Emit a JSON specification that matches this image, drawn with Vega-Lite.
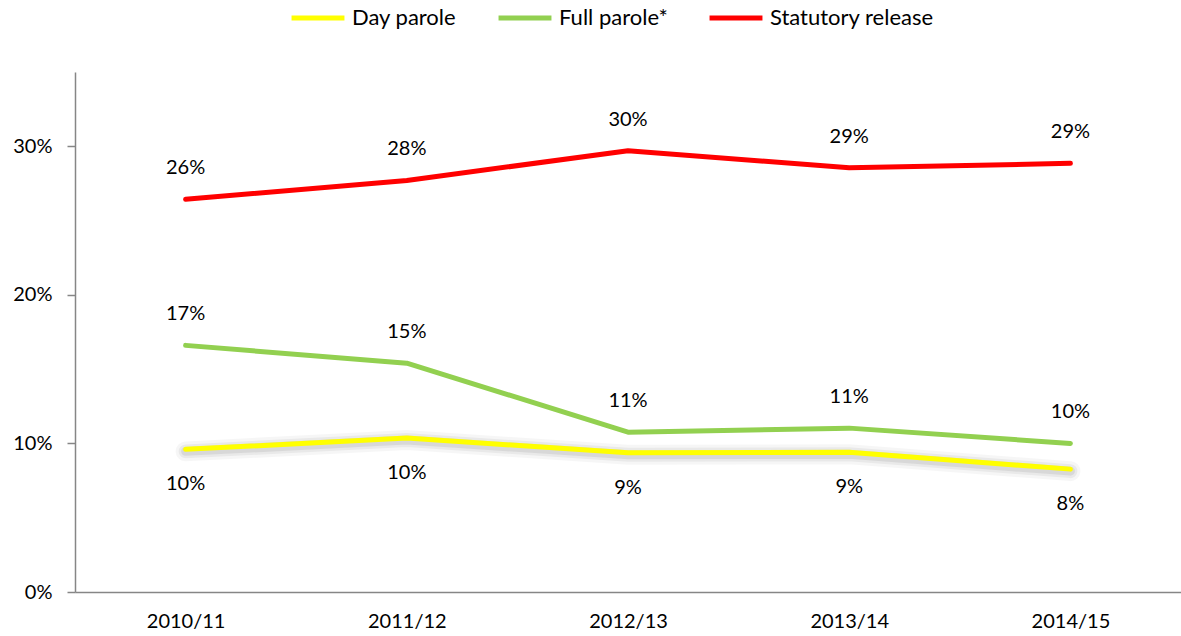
{
  "$schema": "https://vega.github.io/schema/vega-lite/v6.json",
  "autosize": {"type": "none"},
  "padding": {"left": 75, "top": 72, "right": 0, "bottom": 44},
  "width": 1106,
  "height": 520,
  "background": "white",
  "config": {
    "view": {"stroke": null},
    "font": "Lato",
    "axis": {"labelFont": "Lato", "labelColor": "#000000", "labelFontSize": 20, "domainColor": "#868686", "domainWidth": 1.5, "tickColor": "#868686", "tickWidth": 1.5, "grid": false, "title": null}
  },
  "data": {
    "values": [
      {"year": "2010/11", "series": "Day parole", "value": 0.096},
      {"year": "2011/12", "series": "Day parole", "value": 0.1036},
      {"year": "2012/13", "series": "Day parole", "value": 0.0937},
      {"year": "2013/14", "series": "Day parole", "value": 0.094},
      {"year": "2014/15", "series": "Day parole", "value": 0.0827},
      {"year": "2010/11", "series": "Full parole*", "value": 0.166},
      {"year": "2011/12", "series": "Full parole*", "value": 0.154},
      {"year": "2012/13", "series": "Full parole*", "value": 0.1076},
      {"year": "2013/14", "series": "Full parole*", "value": 0.1103},
      {"year": "2014/15", "series": "Full parole*", "value": 0.1},
      {"year": "2010/11", "series": "Statutory release", "value": 0.2643},
      {"year": "2011/12", "series": "Statutory release", "value": 0.277},
      {"year": "2012/13", "series": "Statutory release", "value": 0.297},
      {"year": "2013/14", "series": "Statutory release", "value": 0.2855},
      {"year": "2014/15", "series": "Statutory release", "value": 0.2885}
    ]
  },
  "encoding": {
    "x": {"field": "year", "type": "ordinal", "scale": {"type": "point", "padding": 0.5},
      "axis": {"labelAngle": 0, "ticks": false, "labelPadding": 19}},
    "y": {"field": "value", "type": "quantitative", "scale": {"domain": [0, 0.35], "nice": false, "zero": true},
      "axis": {"values": [0, 0.1, 0.2, 0.3], "format": ".0%", "tickSize": 8, "labelPadding": 15}}
  },
  "layer": [
    {
      "transform": [{"filter": "datum.series === 'Day parole'"}],
      "mark": {"type": "line", "color": "#000000", "opacity": 0.035, "strokeWidth": 20, "strokeCap": "round", "yOffset": 2}
    },
    {
      "transform": [{"filter": "datum.series === 'Day parole'"}],
      "mark": {"type": "line", "color": "#000000", "opacity": 0.05, "strokeWidth": 14, "strokeCap": "round", "yOffset": 2}
    },
    {
      "transform": [{"filter": "datum.series === 'Day parole'"}],
      "mark": {"type": "line", "color": "#000000", "opacity": 0.07, "strokeWidth": 9, "strokeCap": "round", "yOffset": 2}
    },
    {
      "mark": {"type": "line", "strokeWidth": 5, "strokeCap": "round", "strokeJoin": "round"},
      "encoding": {
        "color": {"field": "series", "type": "nominal",
          "scale": {"domain": ["Day parole", "Full parole*", "Statutory release"], "range": ["#FFFF00", "#92D050", "#FF0000"]},
          "legend": {"title": null, "orient": "none", "direction": "horizontal", "legendX": 214, "legendY": -83,
            "symbolType": "stroke", "symbolSize": 2800, "symbolStrokeWidth": 5, "labelFontSize": 22, "labelFont": "Lato", "labelColor": "#000000",
            "labelOffset": 5, "columnPadding": 31, "labelLimit": 400}
        }
      }
    },
    {
      "transform": [{"filter": "datum.series !== 'Day parole'"}],
      "mark": {"type": "text", "fontSize": 20, "font": "Lato", "color": "#000000", "baseline": "middle", "yOffset": -31},
      "encoding": {"text": {"field": "value", "type": "quantitative", "format": ".0%"}}
    },
    {
      "transform": [{"filter": "datum.series === 'Day parole'"}],
      "mark": {"type": "text", "fontSize": 20, "font": "Lato", "color": "#000000", "baseline": "middle", "yOffset": 35},
      "encoding": {"text": {"field": "value", "type": "quantitative", "format": ".0%"}}
    }
  ]
}
